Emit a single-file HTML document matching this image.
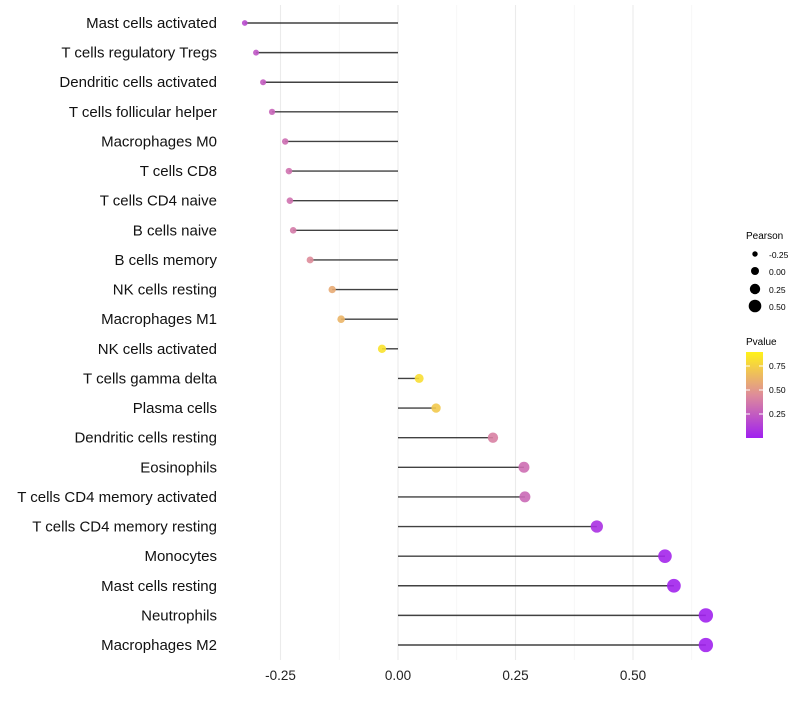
<!DOCTYPE html>
<html><head><meta charset="utf-8"><style>
body{margin:0;background:#fff;font-family:"Liberation Sans",sans-serif}
</style></head><body>
<svg id="chart" width="800" height="700" xmlns="http://www.w3.org/2000/svg" font-family="Liberation Sans, sans-serif">
<defs><linearGradient id="pg" x1="0" y1="1" x2="0" y2="0">
<stop offset="0" stop-color="#a020f0"/><stop offset="0.5" stop-color="#de8c9a"/><stop offset="1" stop-color="#fff21a"/></linearGradient></defs>
<g id="grid"></g><g id="marks"></g><g id="labels"></g>
<g>
<text x="746" y="239" font-size="10" fill="#000">Pearson</text>
<circle cx="755" cy="254" r="2.7" fill="#000"/><text x="769" y="258" font-size="8.5">-0.25</text>
<circle cx="755" cy="271" r="4" fill="#000"/><text x="769" y="275" font-size="8.5">0.00</text>
<circle cx="755" cy="289" r="5.2" fill="#000"/><text x="769" y="293" font-size="8.5">0.25</text>
<circle cx="755" cy="306" r="6.3" fill="#000"/><text x="769" y="310" font-size="8.5">0.50</text>
</g>
<g>
<text x="746" y="345" font-size="10" fill="#000">Pvalue</text>
<rect x="746" y="352" width="17" height="86" fill="url(#pg)"/>
<g stroke="#fff" stroke-width="1"><line x1="746" x2="750" y1="366" y2="366"/><line x1="759" x2="763" y1="366" y2="366"/><line x1="746" x2="750" y1="390" y2="390"/><line x1="759" x2="763" y1="390" y2="390"/><line x1="746" x2="750" y1="414" y2="414"/><line x1="759" x2="763" y1="414" y2="414"/></g>
<text x="769" y="369" font-size="8.5">0.75</text><text x="769" y="393" font-size="8.5">0.50</text><text x="769" y="417" font-size="8.5">0.25</text>
</g>
</svg>
<script>
const categories=["Mast cells activated","T cells regulatory  Tregs","Dendritic cells activated","T cells follicular helper","Macrophages M0","T cells CD8","T cells CD4 naive","B cells naive","B cells memory","NK cells resting","Macrophages M1","NK cells activated","T cells gamma delta","Plasma cells","Dendritic cells resting","Eosinophils","T cells CD4 memory activated","T cells CD4 memory resting","Monocytes","Mast cells resting","Neutrophils","Macrophages M2"];
const pearson=[-0.326,-0.302,-0.287,-0.268,-0.240,-0.232,-0.230,-0.223,-0.187,-0.140,-0.121,-0.034,0.045,0.081,0.202,0.268,0.270,0.423,0.568,0.587,0.655,0.655];
const pvalue=[0.2,0.25,0.28,0.32,0.36,0.38,0.38,0.42,0.5,0.65,0.7,0.92,0.9,0.8,0.45,0.36,0.34,0.08,0.03,0.02,0.01,0.01];
const xTicks=[-0.25,0,0.25,0.5];
const xTickLabels=["-0.25","0.00","0.25","0.50"];
const NS="http://www.w3.org/2000/svg";
const xs=v=>398+v*470;
const ys=i=>23+i*(622/(categories.length-1));
const rs=v=>4.3+4.4*v;
function lerp(a,b,t){return a.map((x,i)=>Math.round(x+(b[i]-x)*t));}
function col(p){const c0=[160,32,240],c1=[222,140,154],c2=[255,242,26];const c=p<0.5?lerp(c0,c1,p/0.5):lerp(c1,c2,(p-0.5)/0.5);return`rgb(${c})`;}
function mk(t,a,parent){const e=document.createElementNS(NS,t);for(const k in a)e.setAttribute(k,a[k]);parent.appendChild(e);return e;}
const grid=document.getElementById('grid'),marks=document.getElementById('marks'),labels=document.getElementById('labels');
const minor=[-0.125,0.125,0.375,0.625];
minor.forEach(v=>{const l=mk('line',{x1:xs(v),x2:xs(v),y1:5,y2:660,stroke:'#f2f2f2','stroke-width':0.6},grid);

});
xTicks.forEach((v,i)=>{const l=mk('line',{x1:xs(v),x2:xs(v),y1:5,y2:660,stroke:'#ebebeb','stroke-width':1.1},grid);


const t=mk('text',{x:xs(v),y:680,'text-anchor':'middle','font-size':13.5,fill:'#222'},labels);t.textContent=xTickLabels[i];

});
categories.forEach((c,i)=>{const y=ys(i);
const l=mk('line',{x1:xs(0),x2:xs(pearson[i]),y1:y,y2:y,stroke:'#111','stroke-width':1.4,'stroke-opacity':0.8},marks);


const d=mk('circle',{cx:xs(pearson[i]),cy:y,r:rs(pearson[i]),fill:col(pvalue[i]),'fill-opacity':0.9},marks);


const t=mk('text',{x:217,y:y+5,'text-anchor':'end','font-size':15,fill:'#111'},labels);t.textContent=c;

});
</script>
</body></html>
